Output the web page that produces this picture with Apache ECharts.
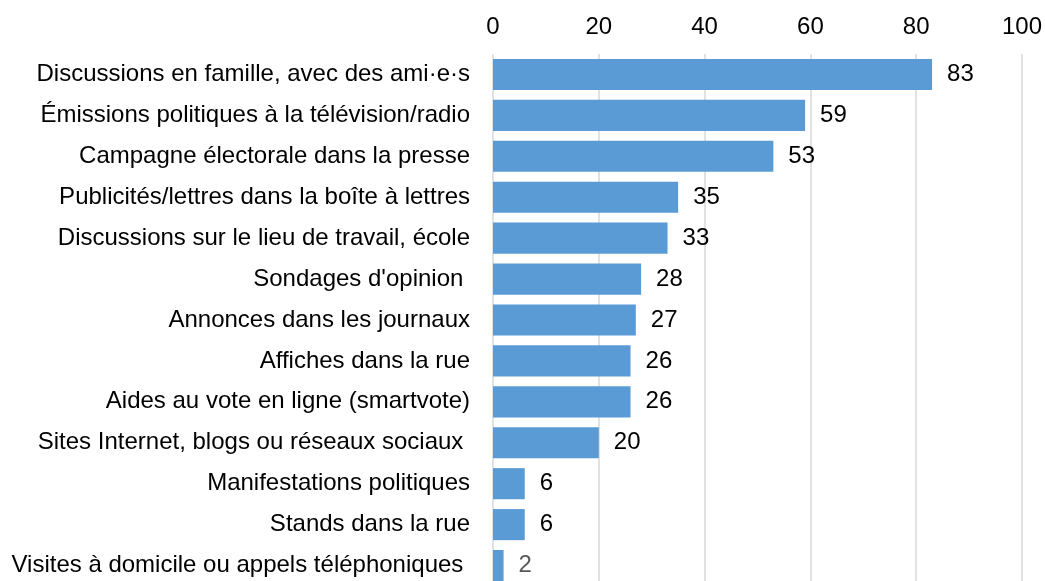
<!DOCTYPE html>
<html>
<head>
<meta charset="utf-8">
<script src="https://cdn.jsdelivr.net/npm/echarts@6/dist/echarts.min.js"></script>
<style>
  html, body { margin: 0; padding: 0; background: #fff; overflow: hidden; }
  /* the original picture is cropped at the bottom, so the chart runs past the window */
  #chart { width: 1045px; height: 600px; }
</style>
</head>
<body>
<div id="chart"></div>
<script>
var categories = [
    "Discussions en famille, avec des ami·e·s",
    "Émissions politiques à la télévision/radio",
    "Campagne électorale dans la presse",
    "Publicités/lettres dans la boîte à lettres",
    "Discussions sur le lieu de travail, école",
    "Sondages d'opinion ",
    "Annonces dans les journaux",
    "Affiches dans la rue",
    "Aides au vote en ligne (smartvote)",
    "Sites Internet, blogs ou réseaux sociaux ",
    "Manifestations politiques",
    "Stands dans la rue",
    "Visites à domicile ou appels téléphoniques "
];
var values = [83, 59, 53, 35, 33, 28, 27, 26, 26, 20, 6, 6, 2];
var xTicks = [0, 20, 40, 60, 80, 100];

var font = "Liberation Sans, Arial, sans-serif";

// last point has a grey label in the original
var seriesData = values.map(function(v, i) {
    var d = { value: v };
    if (i === values.length - 1) {
        d.label = { color: '#595959' };
    }
    return d;
});

var myChart = echarts.init(document.getElementById('chart'));
myChart.setOption({
    animation: false,
    grid: {
        left: 493,
        right: 22,
        top: 54,
        height: 532,
        containLabel: false
    },
    xAxis: {
        type: 'value',
        position: 'top',
        min: xTicks[0],
        max: xTicks[xTicks.length - 1],
        interval: 20,
        axisLine: { show: false },
        axisTick: { show: false },
        axisLabel: {
            margin: 15,
            color: '#000',
            fontFamily: font,
            fontSize: 24
        },
        splitLine: {
            lineStyle: { color: '#d9d9d9', width: 1.5 }
        }
    },
    yAxis: {
        type: 'category',
        inverse: true,
        data: categories,
        axisLine: { show: false },
        axisTick: { show: false },
        axisLabel: {
            margin: 23,
            color: '#000',
            fontFamily: font,
            fontSize: 24
        }
    },
    series: [{
        type: 'bar',
        data: seriesData,
        barCategoryGap: '24%',
        itemStyle: { color: '#5b9bd5' },
        label: {
            show: true,
            position: 'right',
            distance: 15,
            color: '#000',
            fontFamily: font,
            fontSize: 24
        }
    }]
});
</script>
</body>
</html>
